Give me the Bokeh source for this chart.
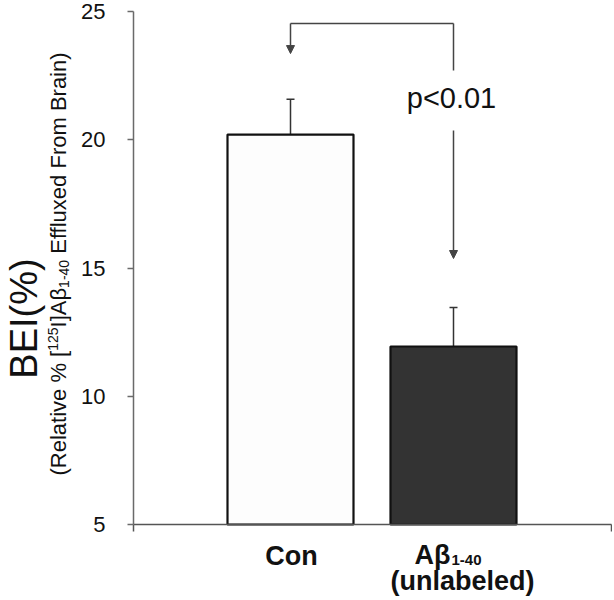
from math import pi
from bokeh.plotting import figure
from bokeh.models import (Label, Arrow, NormalHead, Whisker, TeeHead,
                          ColumnDataSource, FixedTicker, Range1d, LinearAxis)
from bokeh.embed import file_html
from bokeh.resources import INLINE

# ---- data ----
categories = ["Con", "Aβ1-40 (unlabeled)"]
cat_x = [1, 2]
bei_mean = [20.2, 11.94]
bei_err = [1.38, 1.52]
bar_colors = ["#FDFDFD", "#333333"]
y_ticks = [5, 10, 15, 20, 25]
p_text = "p<0.01"

FONT = "Liberation Sans"
W, H = 612, 598

# page-pixel geometry of the reference
AX_L, AX_R, Y25, Y5 = 133, 611, 11, 524
X_PER = 163.0          # px per category step
X_C1 = 290.0           # page x of first category
Y_PER = (Y5 - Y25) / 20.0
BL = 0.36              # renderer baseline shift (fraction of font size)


def dx(X):
    return 1 + (X - X_C1) / X_PER


def dy(Y):
    return 25 - (Y - Y25) / Y_PER


p = figure(width=W, height=H, output_backend="svg", toolbar_location=None,
           x_range=Range1d(dx(0), dx(W)), y_range=Range1d(dy(H), dy(0)),
           x_axis_location=None, y_axis_location=None, min_border=0)
p.outline_line_color = None
p.grid.visible = False
p.background_fill_color = "white"
p.border_fill_color = "white"

# y axis (fixed at the left edge of the category area)
ya = LinearAxis(fixed_location=dx(AX_L), bounds=(5, 25),
                ticker=FixedTicker(ticks=y_ticks))
ya.minor_tick_line_color = None
ya.major_tick_in = 0
ya.major_tick_out = 6
ya.axis_line_color = "#6a6a6a"
ya.axis_line_width = 1.5
ya.major_tick_line_color = "#6a6a6a"
ya.major_tick_line_width = 1.5
ya.major_label_standoff = 22
ya.major_label_text_font = FONT
ya.major_label_text_font_size = "22px"
ya.major_label_text_color = "#111111"
p.add_layout(ya, "left")

# x axis (baseline at y = 5)
xa = LinearAxis(fixed_location=5, bounds=(dx(AX_L), dx(AX_R)),
                ticker=FixedTicker(ticks=[], minor_ticks=[dx(AX_L), dx(AX_R)]))
xa.major_tick_line_color = None
xa.minor_tick_in = 0
xa.minor_tick_out = 7
xa.minor_tick_line_color = "#555555"
xa.minor_tick_line_width = 1.5
xa.axis_line_color = "#555555"
xa.axis_line_width = 1.5
p.add_layout(xa, "below")

# bars
src = ColumnDataSource(dict(
    x=cat_x, top=bei_mean, color=bar_colors,
    upper=[m + e for m, e in zip(bei_mean, bei_err)],
    lower=[m - e for m, e in zip(bei_mean, bei_err)],
))
p.vbar(x="x", top="top", bottom=5, width=126 / X_PER, fill_color="color",
       line_color="#111111", line_width=2.2, source=src)

wh = Whisker(base="x", upper="upper", lower="lower", source=src,
             line_color="#333333", line_width=1.5,
             upper_head=TeeHead(size=8, line_color="#333333", line_width=1.5),
             lower_head=TeeHead(size=8, line_color="#333333", line_width=1.5))
p.add_layout(wh)

# significance bracket
BR_Y = 24.53
BR_COL = "#444444"
p.line(x=[cat_x[0], cat_x[1]], y=[BR_Y, BR_Y], line_color=BR_COL, line_width=1.5)
p.add_layout(Arrow(end=NormalHead(size=8, fill_color=BR_COL, line_color=BR_COL, line_width=1),
                   x_start=cat_x[0], y_start=BR_Y, x_end=cat_x[0], y_end=23.36,
                   line_color=BR_COL, line_width=1.5))
p.line(x=[cat_x[1], cat_x[1]], y=[BR_Y, 22.70], line_color=BR_COL, line_width=1.5)
p.add_layout(Arrow(end=NormalHead(size=8, fill_color=BR_COL, line_color=BR_COL, line_width=1),
                   x_start=cat_x[1], y_start=20.36, x_end=cat_x[1], y_end=15.37,
                   line_color=BR_COL, line_width=1.5))


def hlabel(text, X, Ybase, size, align="center", bold=False):
    p.add_layout(Label(x=dx(X), y=dy(Ybase - BL * size), text=text, text_font=FONT,
                       text_font_size=f"{size}px",
                       text_font_style="bold" if bold else "normal",
                       text_align=align, text_baseline="alphabetic",
                       text_color="#111111"))


def vlabel(text, Xbase, Y, size, align="left"):
    p.add_layout(Label(x=dx(Xbase - BL * size), y=dy(Y), text=text, text_font=FONT,
                       text_font_size=f"{size}px", angle=pi / 2, text_align=align,
                       text_baseline="alphabetic", text_color="#111111"))


hlabel(p_text, 451, 108, 29)

# x category labels
hlabel(categories[0], 291, 565, 27, bold=True)
hlabel("Aβ", 450, 564, 27, align="right", bold=True)
hlabel("1-40", 451, 565, 15, align="left", bold=True)
hlabel("(unlabeled)", 462, 590, 27, bold=True)

# y axis title (rotated, built from pieces)
vlabel("BEI(%)", 37, 318, 38, align="center")

NB = "\u00a0"
pieces = [
    ("(Relative" + NB + "%" + NB + "[", 22, 66, 5.668),
    ("125", 14, 57.5, 1.668),
    ("I]Aβ", 22, 66, 1.798),
    ("1-40", 14, 69, 2.001),
    (NB + "Effluxed" + NB + "From" + NB + "Brain)", 22, 66, 9.447),
]
Ypos = 475.0
for txt, size, xb, em in pieces:
    vlabel(txt, xb, Ypos, size)
    Ypos -= em * size

open("out.html", "w").write(file_html(p, INLINE))
